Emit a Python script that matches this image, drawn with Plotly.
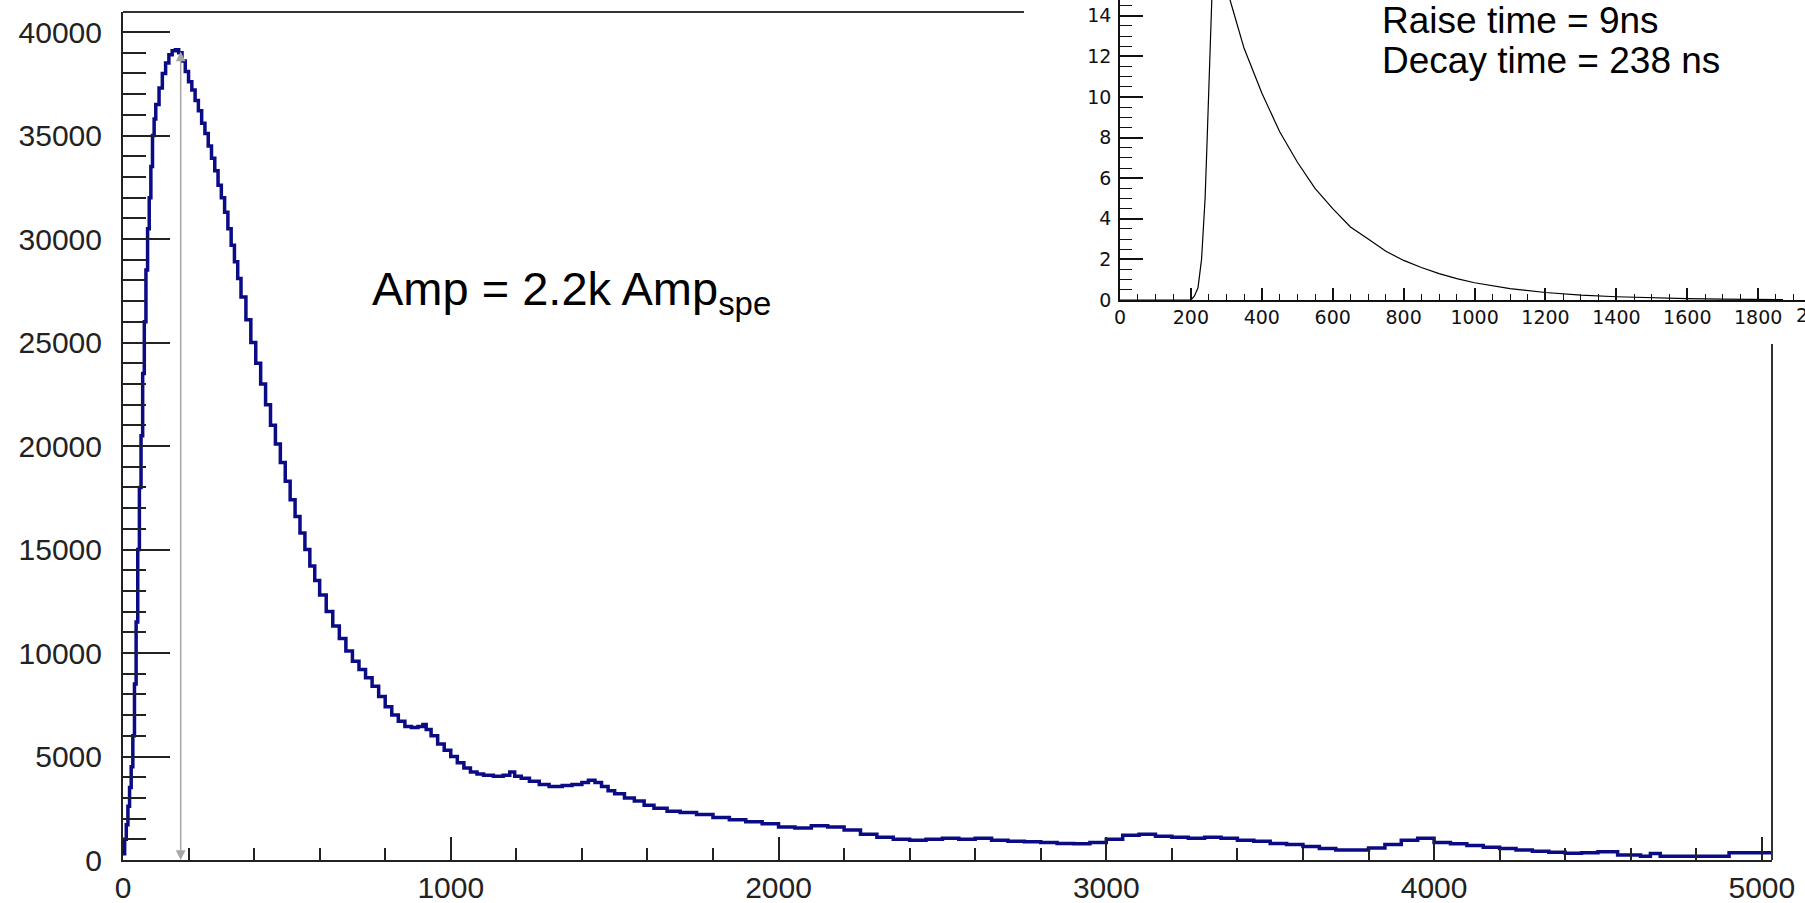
import plotly.graph_objects as go

# Main pulse histogram: left edges of the bins and their contents
bin_left = [0, 5, 10, 15, 20, 25, 30, 35, 40, 45, 50, 55, 60, 65, 70, 75, 80, 85, 90, 95,
            100, 110, 120, 130, 140, 150, 160, 170, 180, 190, 200, 210, 220, 230, 240, 250,
            260, 270, 280, 290, 300, 310, 320, 330, 340, 350, 360, 375, 390, 405, 420, 435,
            450, 465, 480, 495, 510, 525, 540, 555, 570, 585, 600, 620, 640, 660, 680, 700,
            720, 740, 760, 780, 800, 820, 840, 860, 880, 900, 915, 925, 940, 960, 980, 1000,
            1020, 1040, 1060, 1080, 1100, 1130, 1160, 1180, 1195, 1215, 1240, 1270, 1300,
            1340, 1370, 1400, 1420, 1440, 1460, 1480, 1500, 1530, 1560, 1590, 1620, 1660,
            1700, 1750, 1800, 1850, 1900, 1950, 2000, 2050, 2100, 2150, 2200, 2250, 2300,
            2350, 2400, 2450, 2500, 2550, 2600, 2650, 2700, 2750, 2800, 2850, 2900, 2950,
            3000, 3050, 3100, 3150, 3200, 3250, 3300, 3350, 3400, 3450, 3500, 3550, 3600,
            3650, 3700, 3750, 3800, 3850, 3900, 3950, 4000, 4050, 4100, 4150, 4200, 4250,
            4300, 4350, 4400, 4450, 4500, 4560, 4630, 4660, 4690, 4750, 4900]
counts = [300, 1000, 1700, 2600, 3500, 4500, 6000, 8500, 11500, 15000, 18000, 20500, 23500,
          26000, 28500, 30500, 32000, 33500, 35000, 35800, 36500, 37300, 38000, 38500, 38900,
          39100, 39150, 39000, 38600, 38100, 37600, 37200, 36700, 36200, 35600, 35100, 34500,
          33900, 33300, 32600, 32000, 31300, 30500, 29700, 28900, 28100, 27200, 26100, 25000,
          24000, 23000, 22000, 21000, 20100, 19200, 18300, 17400, 16600, 15800, 15000, 14200,
          13500, 12800, 12000, 11300, 10700, 10100, 9600, 9200, 8800, 8400, 7900, 7400, 7000,
          6700, 6450, 6400, 6450, 6550, 6300, 6000, 5600, 5300, 5000, 4700, 4450, 4250, 4150,
          4100, 4050, 4100, 4250, 4050, 3950, 3800, 3650, 3550, 3600, 3650, 3750, 3850, 3750,
          3550, 3350, 3200, 3000, 2850, 2650, 2500, 2350, 2300, 2200, 2050, 1950, 1850, 1750,
          1600, 1550, 1650, 1600, 1450, 1250, 1100, 1000, 950, 1000, 1050, 1000, 1050, 950,
          900, 880, 850, 800, 780, 850, 1000, 1200, 1250, 1150, 1100, 1050, 1100, 1050, 950,
          900, 800, 750, 650, 550, 480, 480, 580, 750, 950, 1050, 850, 780, 700, 620, 560,
          480, 420, 380, 330, 350, 400, 240, 180, 320, 180, 180, 350]
hist_end = 5030

# Inset: single-photoelectron pulse shape (time in ns, amplitude)
inset_t = [0, 200, 210, 220, 230, 240, 245, 250, 255, 260, 265, 280, 300, 320, 350, 400,
           450, 500, 550, 600, 650, 700, 750, 800, 850, 900, 950, 1000, 1100, 1200, 1300,
           1400, 1500, 1600, 1700, 1800, 1870]
inset_v = [0, 0, 0.2, 0.6, 2.0, 5.0, 7.5, 10.5, 13.5, 16.5, 18.0, 17.0, 15.4, 14.2, 12.4,
           10.2, 8.3, 6.8, 5.5, 4.5, 3.6, 3.0, 2.4, 1.95, 1.6, 1.3, 1.05, 0.85, 0.56, 0.37,
           0.24, 0.16, 0.1, 0.07, 0.04, 0.03, 0.02]

peak_pos = 176
peak_val = 39130

W, H = 1805, 903


def px(x):
    return x / W


def py(y):
    return 1 - y / H


axis_col = "#222222"
main_font = dict(family="Liberation Sans, Arial, sans-serif", size=30, color=axis_col)
inset_font = dict(family="DejaVu Sans, sans-serif", size=19, color="#111111")

fig = go.Figure()

fig.add_trace(go.Scatter(
    x=bin_left + [hist_end], y=counts + [counts[-1]],
    mode="lines", line=dict(color="#0b0b86", width=3.5, shape="hv"),
    xaxis="x", yaxis="y", hoverinfo="skip"))

fig.add_trace(go.Scatter(
    x=inset_t, y=inset_v, mode="lines",
    line=dict(color="black", width=1.2),
    xaxis="x2", yaxis="y2", hoverinfo="skip"))

common = dict(showgrid=False, zeroline=False, showline=True, ticks="inside",
              mirror=False, automargin=False, tickformat="d")

fig.update_layout(
    width=W, height=H, template="none", showlegend=False,
    margin=dict(l=0, r=0, t=0, b=0),
    paper_bgcolor="white", plot_bgcolor="white",
    xaxis=dict(domain=[px(123), px(1772)], range=[0, 5031], anchor="y",
               linecolor=axis_col, linewidth=2, tickcolor=axis_col, tickwidth=2,
               ticklen=23, tick0=0, dtick=1000, tickfont=main_font,
               ticklabelstandoff=0,
               minor=dict(dtick=200, tick0=0, ticklen=12, tickwidth=2,
                          tickcolor=axis_col, ticks="inside", showgrid=False),
               **common),
    yaxis=dict(domain=[py(860), py(12)], range=[0, 40970], anchor="x",
               linecolor=axis_col, linewidth=2, tickcolor=axis_col, tickwidth=2,
               ticklen=47, tick0=0, dtick=5000, tickfont=main_font,
               ticklabelstandoff=13,
               minor=dict(dtick=1000, tick0=0, ticklen=23, tickwidth=2,
                          tickcolor=axis_col, ticks="inside", showgrid=False),
               **common),
    xaxis2=dict(domain=[px(1120), 1], range=[0, 1932], anchor="y2",
                linecolor="#111111", linewidth=1.5, tickcolor="#111111", tickwidth=1.5,
                ticklen=12, tick0=0, dtick=200, tickfont=inset_font,
                ticklabelstandoff=-1,
                minor=dict(dtick=50, tick0=0, ticklen=6, tickwidth=1.2,
                           tickcolor="#111111", ticks="inside", showgrid=False),
                **common),
    yaxis2=dict(domain=[py(300), 1], range=[0, 14.78], anchor="x2",
                linecolor="#111111", linewidth=1.5, tickcolor="#111111", tickwidth=1.5,
                ticklen=23, tick0=0, dtick=2, tickfont=inset_font,
                ticklabelstandoff=3,
                minor=dict(dtick=0.5, tick0=0, ticklen=12, tickwidth=1.2,
                           tickcolor="#111111", ticks="inside", showgrid=False),
                **common),
)

# Frame pieces of the main pad that stay visible around the inset
fig.add_shape(type="line", xref="paper", yref="paper",
              x0=px(123), x1=px(1024), y0=py(12), y1=py(12),
              line=dict(color="#333333", width=2))
fig.add_shape(type="line", xref="paper", yref="paper",
              x0=px(1772), x1=px(1772), y0=py(860), y1=py(344),
              line=dict(color="#333333", width=2))

# Double-headed marker from the peak down to the axis
fig.add_annotation(x=peak_pos, y=0, ax=peak_pos, ay=peak_val,
                   xref="x", yref="y", axref="x", ayref="y", text="",
                   showarrow=True, arrowhead=2, startarrowhead=2,
                   arrowside="end+start", arrowsize=1.3, arrowwidth=1.5,
                   arrowcolor="#a6a6a6", standoff=0, startstandoff=0)

fig.add_annotation(x=px(370), y=py(292), xref="paper", yref="paper",
                   xanchor="left", yanchor="middle", showarrow=False,
                   text="Amp = 2.2k Amp<sub>spe</sub>",
                   font=dict(family="Liberation Sans, Arial, sans-serif", size=47,
                             color="black"))

fig.add_annotation(x=px(1380), y=py(20.5), xref="paper", yref="paper",
                   xanchor="left", yanchor="middle", showarrow=False,
                   text="Raise time = 9ns",
                   font=dict(family="Liberation Sans, Arial, sans-serif", size=37,
                             color="black"))
fig.add_annotation(x=px(1380), y=py(60.5), xref="paper", yref="paper",
                   xanchor="left", yanchor="middle", showarrow=False,
                   text="Decay time = 238 ns",
                   font=dict(family="Liberation Sans, Arial, sans-serif", size=37,
                             color="black"))

# Label of the inset's last major tick, partly beyond the page edge
fig.add_annotation(x=px(1820), y=py(302), xref="paper", yref="paper",
                   xanchor="center", yanchor="top", showarrow=False,
                   text="2000", font=inset_font)

fig.write_html("out.html")
